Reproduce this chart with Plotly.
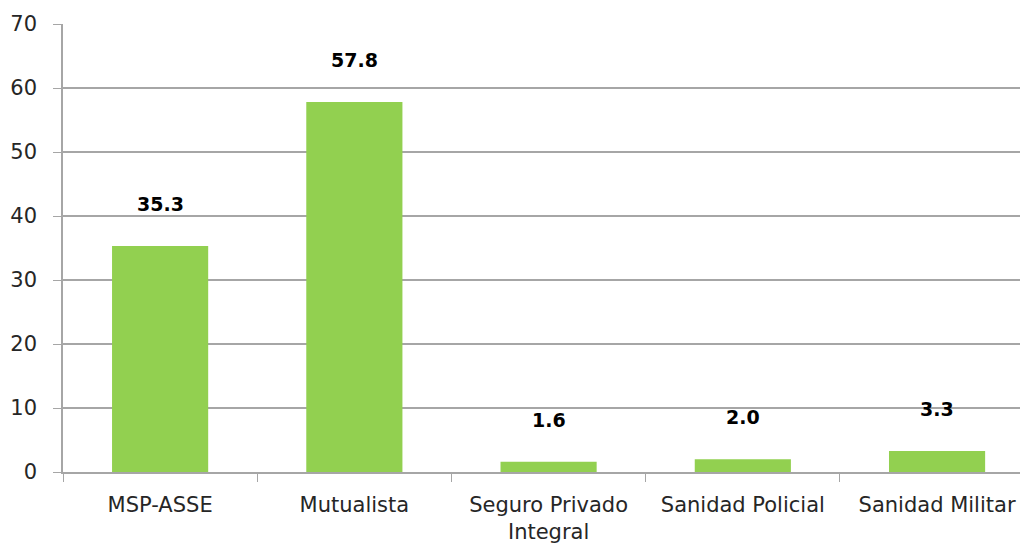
import plotly.graph_objects as go

categories = ["MSP-ASSE", "Mutualista", "Seguro Privado<br>Integral", "Sanidad Policial", "Sanidad Militar"]
values = [35.3, 57.8, 1.6, 2.0, 3.3]
y_ticks = [0, 10, 20, 30, 40, 50, 60, 70]

fig = go.Figure()
fig.add_trace(go.Bar(x=categories, y=values, marker=dict(color="#92D050", line=dict(width=0)), width=0.495))

for c, v in zip(categories, values):
    fig.add_annotation(x=c, y=v, text="<b>%.1f</b>" % v, showarrow=False, yshift=42,
                       font=dict(family="DejaVu Sans", size=19, color="#000000"))

grid = "#a6a6a6"
fig.update_layout(
    width=1020, height=546,
    margin=dict(l=63, r=0, t=24, b=74),
    paper_bgcolor="white", plot_bgcolor="white",
    showlegend=False,
    font=dict(family="DejaVu Sans", size=21, color="#262626"),
    xaxis=dict(range=[-0.5, 4.427], tickson="boundaries", ticks="outside", ticklen=8,
               tickcolor=grid, showline=True, linecolor=grid, linewidth=1.5,
               showgrid=False, ticklabelstandoff=13, tickfont=dict(size=21)),
    yaxis=dict(range=[0, 70], tickvals=y_ticks, ticks="outside", ticklen=8, tickcolor=grid,
               showline=True, linecolor=grid, linewidth=1.5, gridcolor=grid, gridwidth=1.5,
               zeroline=False, ticklabelstandoff=12, tickfont=dict(size=21)),
)
fig.write_html("out.html", config={"displayModeBar": False},
               post_script="document.body.style.margin='0';document.body.style.overflow='hidden';")
